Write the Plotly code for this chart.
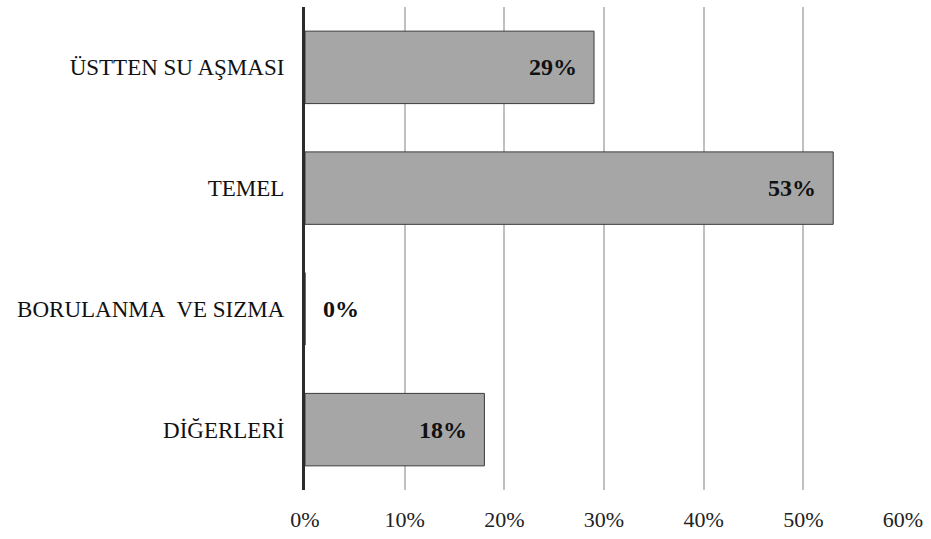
import plotly.graph_objects as go

categories = ["ÜSTTEN SU AŞMASI", "TEMEL", "BORULANMA\u00a0 VE SIZMA", "DİĞERLERİ"]
values = [29, 53, 0, 18]
tick_vals = [0, 10, 20, 30, 40, 50, 60]
tick_text = ["0%", "10%", "20%", "30%", "40%", "50%", "60%"]

fig = go.Figure()
fig.add_trace(go.Bar(
    x=values, y=categories, orientation="h",
    marker=dict(color="#a6a6a6", line=dict(color="#3a3a3a", width=1)),
    hoverinfo="skip",
))

label_font = dict(family="Liberation Serif", size=24, color="#111")
annotations = []
for c, v in zip(categories, values):
    if v > 0:
        annotations.append(dict(x=v, y=c, xref="x", yref="y", text=f"<b>{v}%</b>",
                                showarrow=False, xanchor="right", xshift=-15,
                                font=label_font))
    else:
        annotations.append(dict(x=v, y=c, xref="x", yref="y", text=f"<b>{v}%</b>",
                                showarrow=False, xanchor="left", xshift=16,
                                font=label_font))

fig.update_layout(
    width=931, height=539,
    margin=dict(l=305, r=28, t=7, b=44),
    paper_bgcolor="white", plot_bgcolor="white",
    bargap=0.4,
    showlegend=False,
    annotations=annotations,
    font=dict(family="Liberation Serif", size=17, color="#222"),
    xaxis=dict(range=[0, 60], tickvals=tick_vals, ticktext=tick_text,
               showgrid=True, gridcolor="#c0c0c0", gridwidth=2,
               zeroline=False, showline=False, ticks="", ticklabelstandoff=14,
               tickfont=dict(family="Liberation Serif", size=22, color="#222")),
    yaxis=dict(autorange="reversed", showgrid=False, zeroline=False,
               showline=True, linecolor="#2b2b2b", linewidth=3,
               ticks="", ticklabelstandoff=13,
               tickfont=dict(family="Liberation Serif", size=23, color="#111")),
)

fig.write_html("out.html")
